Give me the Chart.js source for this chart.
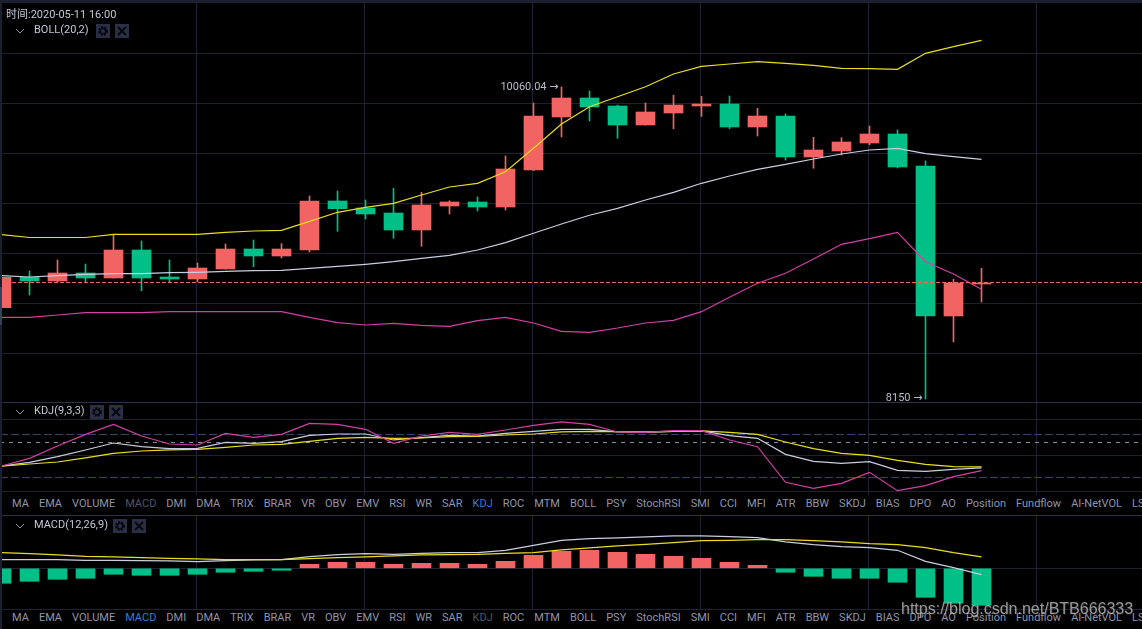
<!DOCTYPE html>
<html>
<head>
  <meta charset="utf-8">
  <title>BOLL KDJ MACD</title>
  <script src="https://cdn.jsdelivr.net/npm/chart.js"></script>
  <style>
    html, body { margin: 0; padding: 0; background: #000; overflow: hidden; }
    #wrap { position: relative; width: 1142px; height: 629px; background: #000; overflow: hidden;
      font-family: Roboto, "Noto Sans CJK SC", sans-serif; color: #c3c6d6; font-size: 11px; }
    canvas { position: absolute; left: 0; display: block; }
    .rule { position: absolute; left: 0; width: 1142px; height: 1px; background: #2a3048; z-index: 2; }
    .strip { position: absolute; background: #1b1f30; z-index: 3; }
    .head { position: absolute; left: 15px; display: flex; align-items: center; height: 15px; z-index: 4; }
    .head svg { display: block; }
    .head .name { margin: 0 7px 0 9px; position: relative; top: -1px; }
    .head .box { margin-right: 5px; }
    .tabs { position: absolute; left: 12px; display: flex; gap: 10px; white-space: nowrap; color: #8f95ad; z-index: 4; }
    .tabs .on { color: #2f7fd6; }
    .tabs .off { color: #50556b; }
    #time { position: absolute; left: 6px; top: 5px; z-index: 4; }
    #mark { position: absolute; left: 901px; top: 600px; z-index: 5; white-space: nowrap;
      font-family: "Liberation Sans", sans-serif; font-size: 16px; color: rgba(205, 205, 205, 0.72);
      text-shadow: 1px 1px 1px rgba(60, 60, 60, 0.6); }
  </style>
</head>
<body>
<div id="wrap">
  <canvas id="mainChart" width="1142" height="400" style="top:3px"></canvas>
  <canvas id="kdjChart" width="1142" height="92" style="top:403px"></canvas>
  <canvas id="macdChart" width="1142" height="93" style="top:516px"></canvas>
  <div class="strip" style="left:0;top:0;width:1142px;height:3px"></div>
  <div class="strip" style="left:0;top:0;width:2px;height:629px"></div>
  <div class="strip" style="left:0;top:287px;width:2px;height:38px;background:#3a3f5c"></div>
  <div class="rule" style="top:402px"></div>
  <div class="rule" style="top:515px"></div>
  <div class="rule" style="top:609px;background:#1e2233"></div>
  <div id="time">时间:2020-05-11 16:00</div>
  <div id="mark">https://blog.csdn.net/BTB666333</div>
</div>

<script>
// candles, oldest first
const candleOpen = [8708.8, 8894.8, 8872.2, 8921.1, 8890.5, 9061.9, 8896.7, 8884.4, 8945.6, 9068.0, 9025.2, 9061.9,
  9361.8, 9318.9, 9288.3, 9184.3, 9331.2, 9355.6, 9325.1, 9551.5, 9875.9, 9992.1, 9943.2, 9826.9,
  9900.3, 9943.2, 9955.4, 9814.7, 9882.0, 9631.1, 9667.8, 9716.7, 9771.8, 9576.0, 8658.0, 8853.8];
const candleClose = [8894.8, 8872.2, 8921.1, 8890.5, 9061.9, 8890.5, 8884.4, 8951.7, 9068.0, 9025.2, 9068.0, 9361.8,
  9314.7, 9282.2, 9184.3, 9337.3, 9355.6, 9325.1, 9557.6, 9882.0, 9992.1, 9937.1, 9826.9, 9906.5,
  9949.3, 9955.4, 9814.7, 9882.0, 9631.1, 9673.9, 9722.9, 9771.8, 9569.9, 8658.0, 8859.9, 8859.9];
const candleHigh = [8894.8, 8933.4, 9000.7, 8976.2, 9153.7, 9117.0, 9000.7, 8982.3, 9098.6, 9123.1, 9100.5, 9392.4,
  9423.0, 9367.9, 9439.5, 9415.0, 9363.6, 9386.3, 9637.2, 9961.5, 10060.04, 10035.0, 9949.3, 9961.5,
  10008.7, 10002.5, 10004.4, 9929.1, 9894.2, 9751.6, 9749.2, 9820.8, 9796.3, 9606.6, 8882.6, 8949.9];
const candleLow = [8708.8, 8786.5, 8867.9, 8864.2, 8890.5, 8812.8, 8861.8, 8867.9, 8945.6, 8959.7, 9012.9, 9049.7,
  9176.3, 9251.6, 9133.5, 9084.5, 9282.2, 9300.6, 9306.7, 9547.2, 9753.5, 9851.4, 9745.5, 9826.9,
  9804.3, 9880.1, 9804.3, 9759.6, 9612.7, 9561.9, 9643.3, 9704.5, 9563.7, 8150, 8498.9, 8743.7];

const bollUpper = [9155.5, 9138.4, 9138.4, 9138.4, 9158.0, 9158.0, 9158.0, 9158.0, 9170.2, 9178.2, 9182.5, 9237.5,
  9292.6, 9323.2, 9347.7, 9398.5, 9447.5, 9470.1, 9541.1, 9684.3, 9833.0, 9938.9, 10000.1, 10061.3,
  10139.0, 10186.1, 10200.2, 10214.3, 10204.5, 10192.3, 10173.9, 10171.5, 10167.8, 10265.7, 10306.1, 10345.3];
const bollMid = [8904.6, 8896.7, 8904.6, 8913.2, 8916.9, 8916.9, 8923.0, 8925.4, 8931.5, 8935.2, 8937.7, 8949.9,
  8962.1, 8974.4, 8990.3, 9011.1, 9029.5, 9061.9, 9106.6, 9164.1, 9221.0, 9274.3, 9317.1, 9367.9,
  9415.0, 9470.1, 9514.8, 9555.8, 9586.4, 9618.8, 9649.4, 9673.9, 9684.3, 9651.3, 9632.9, 9617.0];
const bollLower = [8650.0, 8650.0, 8664.1, 8678.2, 8678.2, 8678.2, 8684.3, 8684.3, 8684.3, 8684.3, 8684.3, 8650.0,
  8617.0, 8602.9, 8613.3, 8601.1, 8594.9, 8629.2, 8650.0, 8615.1, 8564.3, 8558.2, 8584.5, 8615.1,
  8631.7, 8684.3, 8772.4, 8858.1, 8919.3, 9006.8, 9096.8, 9131.1, 9170.2, 8990.3, 8915.0, 8821.4];
const lastPrice = 8863;

const kdjK = [35.1, 40.2, 48.1, 57.4, 67.1, 62.0, 59.2, 59.7, 68.0, 66.6, 68.9, 77.7,
  79.6, 79.6, 71.3, 74.5, 77.7, 76.8, 80.5, 83.3, 86.1, 86.1, 82.4, 81.9,
  83.3, 83.8, 77.3, 73.6, 51.3, 41.6, 38.8, 41.2, 29.1, 27.7, 30.5, 32.4];
const kdjD = [35.1, 37.9, 40.7, 46.3, 52.7, 56.0, 57.4, 58.3, 61.1, 64.3, 65.2, 69.4,
  73.6, 75.0, 73.6, 74.0, 75.9, 76.3, 78.2, 79.6, 82.4, 83.3, 82.8, 82.4,
  83.3, 83.8, 81.9, 79.1, 68.5, 59.2, 52.7, 49.9, 43.0, 37.5, 34.2, 33.8];
const kdjJ = [35.1, 45.8, 62.9, 79.1, 93.0, 76.8, 65.7, 64.3, 80.5, 75.0, 79.1, 94.4,
  93.0, 86.1, 66.6, 76.8, 81.9, 79.1, 85.1, 91.6, 96.3, 93.0, 82.4, 81.9,
  84.2, 84.2, 71.3, 62.0, 12.5, 4.1, 11.1, 26.3, 0.9, 7.8, 20.3, 28.7];

const macdDif = [43.3, 43.3, 43.3, 40, 40, 38.3, 36.7, 33.3, 38.3, 41.7, 43.3, 58.3,
  68.3, 73.3, 70, 75, 78.3, 78.3, 90, 115, 140, 148.3, 151.7, 156.7,
  161.7, 161.7, 158.3, 153.3, 131.7, 118.3, 108.3, 103.3, 90, 35, 3.3, -31.7];
const macdDea = [78.3, 73.3, 66.7, 60, 56.7, 53.3, 50, 46.7, 43.3, 43.3, 43.3, 48.3,
  53.3, 56.7, 61.7, 66.7, 68.3, 70, 75, 78.3, 91.7, 101.7, 111.7, 120,
  128.3, 138.3, 140, 143.3, 143.3, 138.3, 131.7, 123.3, 118.3, 103.3, 78.3, 56.7];
const macdHist = [-75, -65, -55, -50, -30, -35, -35, -30, -20, -15, -10, 20,
  30, 30, 20, 25, 25, 20, 35, 65, 85, 90, 80, 70,
  60, 50, 30, 15, -20, -40, -50, -50, -70, -145, -175, -185];

const priceGrid = [10265.7, 9959.7, 9653.7, 9347.7, 9041.7, 8735.7, 8429.7];
const kdjGrid = [0, 50, 100];
const kdjBlueLevels = [78.9, 19.2];
const kdjWhiteLevels = [67.8];
const macdGrid = [0];
const timeGrid = [6.964, 12.964, 18.964, 24.964, 30.964, 36.964];

const tabLabels = ["MA", "EMA", "VOLUME", "MACD", "DMI", "DMA", "TRIX", "BRAR", "VR", "OBV", "EMV", "RSI", "WR", "SAR", "KDJ",
  "ROC", "MTM", "BOLL", "PSY", "StochRSI", "SMI", "CCI", "MFI", "ATR", "BBW", "SKDJ", "BIAS", "DPO", "AO", "Position",
  "Fundflow", "AI-NetVOL", "LS"];

const UP = "#f26464", DOWN = "#00c087";
const YELLOW = "#e8de1f", WHITE = "#c9cde0", PINK = "#d23fa6";
const GRID = "#1e2233";
const xMin = -1.5 / 28, xMax = 1140.5 / 28;

function series(values) {
  return values.map((v, i) => ({ x: i, y: v }));
}

function line(values, color, order) {
  return { type: "line", data: series(values), borderColor: color, borderWidth: 1.2, pointRadius: 0, tension: 0, order: order };
}

function level(y, color, dash, order) {
  return { type: "line", data: [{ x: xMin, y: y }, { x: xMax, y: y }], borderColor: color, borderWidth: 1,
    borderDash: dash, pointRadius: 0, order: order };
}

function paneOptions(yMin, yMax, yGrid) {
  return {
    responsive: false,
    animation: false,
    events: [],
    layout: { padding: 0 },
    plugins: { legend: { display: false }, tooltip: { enabled: false } },
    scales: {
      x: {
        type: "linear", min: xMin, max: xMax, offset: false,
        afterBuildTicks: s => { s.ticks = timeGrid.map(v => ({ value: v })); },
        ticks: { display: false },
        border: { display: false },
        grid: { color: GRID, drawTicks: false, offset: false }
      },
      y: {
        min: yMin, max: yMax,
        afterBuildTicks: s => { s.ticks = yGrid.map(v => ({ value: v })); },
        ticks: { display: false },
        border: { display: false },
        grid: { color: GRID, drawTicks: false }
      }
    }
  };
}

// high and low labels next to the candle
const extremeLabels = {
  id: "extremeLabels",
  afterDatasetsDraw(chart) {
    const { ctx, scales } = chart;
    const hi = Math.max(...candleHigh), lo = Math.min(...candleLow);
    ctx.save();
    ctx.font = "11px Roboto, 'DejaVu Sans'";
    ctx.fillStyle = "#b9bccb";
    ctx.textAlign = "right";
    ctx.textBaseline = "middle";
    ctx.fillText(hi + " →", scales.x.getPixelForValue(candleHigh.indexOf(hi)) - 3, scales.y.getPixelForValue(hi));
    ctx.fillText(lo + " →", scales.x.getPixelForValue(candleLow.indexOf(lo)) - 3, scales.y.getPixelForValue(lo) - 1);
    ctx.restore();
  }
};

const candleColors = candleClose.map((c, i) => c >= candleOpen[i] ? UP : DOWN);

new Chart(document.getElementById("mainChart"), {
  type: "bar",
  data: {
    datasets: [
      level(lastPrice, UP, [4, 2], 0),
      line(bollUpper, YELLOW, 1),
      line(bollMid, WHITE, 1),
      line(bollLower, PINK, 1),
      { data: candleOpen.map((o, i) => ({ x: i, y: [o, candleClose[i]] })), backgroundColor: candleColors, barThickness: 19, grouped: false, order: 2 },
      { data: candleLow.map((l, i) => ({ x: i, y: [l, candleHigh[i]] })), backgroundColor: candleColors, barThickness: 1, grouped: false, order: 3 }
    ]
  },
  options: paneOptions(8125.52, 10573.52, priceGrid),
  plugins: [extremeLabels]
});

new Chart(document.getElementById("kdjChart"), {
  type: "line",
  data: {
    datasets: [
      line(kdjJ, PINK, 0),
      line(kdjD, YELLOW, 1),
      line(kdjK, WHITE, 2),
      ...kdjBlueLevels.map(v => level(v, "#3a4468", [8, 3], 3)),
      ...kdjWhiteLevels.map(v => level(v, "#8a8ea0", [4, 5], 3))
    ]
  },
  options: paneOptions(-5.14, 122.64, kdjGrid)
});

new Chart(document.getElementById("macdChart"), {
  type: "bar",
  data: {
    datasets: [
      line(macdDea, YELLOW, 0),
      line(macdDif, WHITE, 1),
      { data: series(macdHist), backgroundColor: macdHist.map(v => v >= 0 ? UP : DOWN), barThickness: 19, grouped: false, order: 2 }
    ]
  },
  options: paneOptions(-203.5, 261.5, macdGrid)
});

// pane headers and indicator tabs
const wrap = document.getElementById("wrap");
const chevron = '<svg width="10" height="6"><path d="M1 1 L5 5 L9 1" fill="none" stroke="#8f95ad"/></svg>';
const gear = '<svg class="box" width="14" height="14"><rect width="14" height="14" fill="#2a2f45"/><circle cx="7" cy="7" r="3.4" fill="none" stroke="#07080e" stroke-width="3" stroke-dasharray="1.7 1.1"/><circle cx="7" cy="7" r="2.9" fill="none" stroke="#07080e" stroke-width="1.4"/></svg>';
const cross = '<svg class="box" width="14" height="14"><rect width="14" height="14" fill="#2a2f45"/><path d="M3 3 L11 11 M11 3 L3 11" stroke="#07080e" stroke-width="2"/></svg>';

function addHead(text, top, gap) {
  const d = document.createElement("div");
  d.className = "head";
  d.style.top = top + "px";
  d.innerHTML = chevron + '<span class="name" style="margin-right:' + gap + 'px">' + text + "</span>" + gear + cross;
  wrap.appendChild(d);
}
addHead("BOLL(20,2)", 23, 7);
addHead("KDJ(9,3,3)", 404, 5);
addHead("MACD(12,26,9)", 518, 5);

function addTabs(top, active, muted) {
  const d = document.createElement("div");
  d.className = "tabs";
  d.style.top = top + "px";
  tabLabels.forEach(t => {
    const s = document.createElement("span");
    s.textContent = t;
    if (t === active) s.className = "on";
    if (t === muted) s.className = "off";
    d.appendChild(s);
  });
  wrap.appendChild(d);
}
addTabs(497, "KDJ", "MACD");
addTabs(611, "MACD", "KDJ");
</script>
</body>
</html>
